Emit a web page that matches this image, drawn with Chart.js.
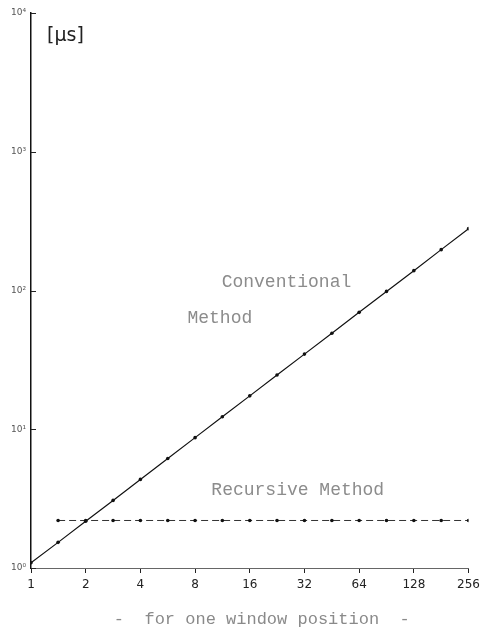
<!DOCTYPE html>
<html><head><meta charset="utf-8">
<script src="https://cdn.jsdelivr.net/npm/chart.js@4/dist/chart.umd.min.js"></script>
<style>html,body{margin:0;padding:0;background:#fff;}</style>
</head><body>
<canvas id="c" width="485" height="634"></canvas>
<script>
// window size (x) and computing time in µs (y)
const windowSizes = [1, 1.41, 2, 2.83, 4, 5.66, 8, 11.3, 16, 22.6, 32, 45.3, 64, 90.5, 128, 181, 256];
const conventional = [1.09, 1.53, 2.17, 3.07, 4.35, 6.15, 8.7, 12.3, 17.4, 24.6, 34.8, 49.2, 69.6, 98.5, 139, 197, 279];
const recursiveSizes = [1.41, 2, 2.83, 4, 5.66, 8, 11.3, 16, 22.6, 32, 45.3, 64, 90.5, 128, 181, 256];
const recursive = [2.2, 2.2, 2.2, 2.2, 2.2, 2.2, 2.2, 2.2, 2.2, 2.2, 2.2, 2.2, 2.2, 2.2, 2.2, 2.2];
const xTicks = [1, 2, 4, 8, 16, 32, 64, 128, 256];
const xTickLabels = ['1', '2', '4', '8', '16', '32', '64', '128', '256'];
const yTicks = [1, 10, 100, 1000, 10000];
const yTickLabels = ['10\u2070', '10\u00b9', '10\u00b2', '10\u00b3', '10\u2074'];
const unitLabel = '[\u00b5s]';
const xTitle = '-  for one window position  -';
const notes = [
  {text: 'Conventional', x: 11.2, y: 114},
  {text: 'Method', x: 7.26, y: 63},
  {text: 'Recursive Method', x: 9.83, y: 3.64}
];

const pts = (xs, ys) => xs.map((x, i) => ({x: x, y: ys[i]}));

const extras = {
  id: 'extras',
  afterDraw(chart) {
    const ctx = chart.ctx;
    const xs = chart.scales.x, ys = chart.scales.y;
    const a = chart.chartArea;
    ctx.save();
    // inward ticks on y axis
    ctx.strokeStyle = '#222';
    ctx.lineWidth = 1;
    yTicks.forEach(v => {
      const py = Math.round(ys.getPixelForValue(v)) + 0.5;
      ctx.beginPath();
      ctx.moveTo(a.left, py);
      ctx.lineTo(a.left + 5, py);
      ctx.stroke();
    });
    // unit label
    ctx.fillStyle = '#222';
    ctx.font = '19px "DejaVu Sans"';
    ctx.textBaseline = 'middle';
    ctx.textAlign = 'left';
    ctx.fillText(unitLabel, a.left + 16, a.top + 23);
    // annotations
    ctx.fillStyle = '#8c8c8c';
    ctx.font = '18px "Liberation Mono"';
    notes.forEach(n => {
      ctx.fillText(n.text, xs.getPixelForValue(n.x), ys.getPixelForValue(n.y));
    });
    // x title
    ctx.fillStyle = '#8a8a8a';
    ctx.font = '17px "Liberation Mono"';
    ctx.textAlign = 'center';
    ctx.fillText(xTitle, (a.left + a.right) / 2 + 12, 619);
    ctx.restore();
  }
};

new Chart(document.getElementById('c'), {
  type: 'scatter',
  data: {
    datasets: [
      {
        data: pts(windowSizes, conventional),
        showLine: true,
        borderColor: '#111',
        borderWidth: 1.2,
        pointRadius: 1.8,
        pointBackgroundColor: '#111',
        pointBorderWidth: 0
      },
      {
        data: pts(recursiveSizes, recursive),
        showLine: true,
        borderColor: '#333',
        borderWidth: 1,
        borderDash: [7, 4],
        pointRadius: 1.8,
        pointBackgroundColor: '#111',
        pointBorderWidth: 0
      }
    ]
  },
  options: {
    responsive: false,
    devicePixelRatio: 1,
    animation: false,
    layout: {padding: {left: 0, top: 13, right: 15, bottom: 0}},
    plugins: {legend: {display: false}, tooltip: {enabled: false}},
    scales: {
      x: {
        type: 'logarithmic',
        min: 1, max: 256,
        afterBuildTicks: s => { s.ticks = xTicks.map(v => ({value: v})); },
        afterFit: s => { s.height = 66; },
        grid: {drawOnChartArea: false, drawTicks: true, tickLength: 5, color: '#222', lineWidth: 1},
        border: {display: true, color: '#666', width: 1, dash: [9, 4]},
        ticks: {
          autoSkip: false, maxRotation: 0, padding: 5,
          color: '#222',
          font: {family: '"DejaVu Sans"', size: 12},
          callback: (v, i) => xTickLabels[i]
        }
      },
      y: {
        type: 'logarithmic',
        min: 1, max: 10000,
        afterBuildTicks: s => { s.ticks = yTicks.map(v => ({value: v})); },
        afterFit: s => { s.width = 31; },
        grid: {drawOnChartArea: false, drawTicks: false},
        border: {display: true, color: '#111', width: 1.5},
        ticks: {
          padding: 5,
          color: '#555',
          font: {family: '"DejaVu Sans"', size: 9},
          callback: (v, i) => yTickLabels[i]
        }
      }
    }
  },
  plugins: [extras]
});
</script>
</body></html>
